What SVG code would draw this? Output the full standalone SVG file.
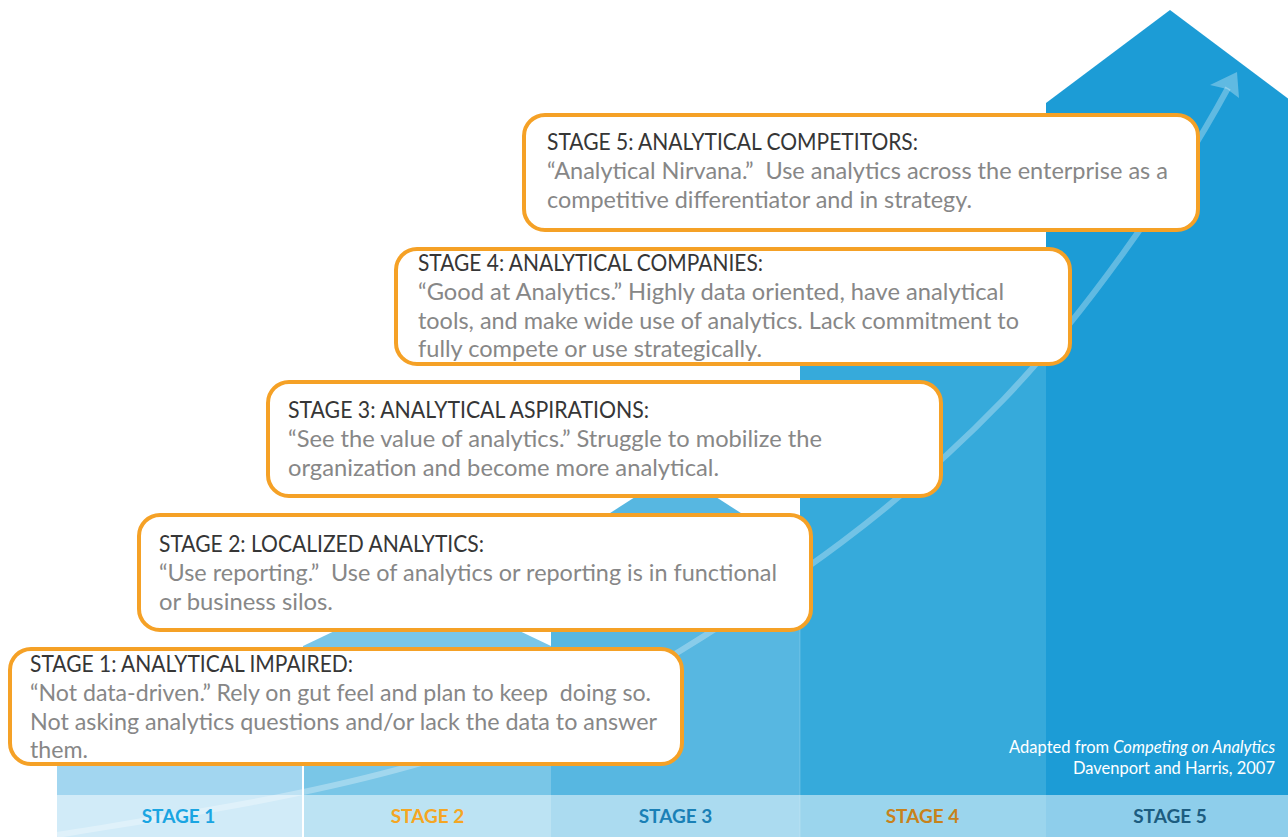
<svg xmlns="http://www.w3.org/2000/svg" width="1288" height="837" viewBox="0 0 1288 837">
  <style>
    .box { fill: #ffffff; stroke: #f5a126; stroke-width: 4; }
    .title { font-family: Lato, "Open Sans", sans-serif; font-size: 23px; fill: #363636; }
    .body { font-family: Lato, "Open Sans", sans-serif; font-size: 24px; fill: #878787; }
    .lbl { font-family: Lato, "Open Sans", sans-serif; font-size: 19px; font-weight: 700; text-anchor: middle; }
    .attr { font-family: Lato, "Open Sans", sans-serif; font-size: 16.5px; fill: #ffffff; text-anchor: end; }
  </style>
  <rect width="1288" height="837" fill="#ffffff"/>
  <g id="columns">
    <polygon points="57,837 57,730 180,690 303,730 303,837" fill="#a2d6f0"/>
    <polygon points="303,837 303,646 427,587 551,646 551,837" fill="#79c6e7"/>
    <polygon points="551,837 551,551 675.5,471 800,551 800,837" fill="#57b7e1"/>
    <polygon points="800,837 800,355 923,275 1046,355 1046,837" fill="#36aadb"/>
    <polygon points="1046,837 1046,103 1170,10 1294,103 1294,837" fill="#1c9cd6"/>
    <rect x="57" y="795" width="1231" height="42" fill="#ffffff" fill-opacity="0.5"/>
    <line x1="303" y1="700" x2="303" y2="837" stroke="#ffffff" stroke-width="2"/>
    <line x1="800" y1="540" x2="800" y2="837" stroke="#ffffff" stroke-width="1" stroke-opacity="0.2"/>
  </g>
  <g id="connectors">
    <path d="M57,835 C257,802 480,775 680,651 C788,584 895,512 1003,400 C1079,321 1170,195 1228,88" fill="none" stroke="#ffffff" stroke-opacity="0.3" stroke-width="6"/>
    <polygon points="1237,72 1210,85 1227,89 1239,98" fill="#ffffff" fill-opacity="0.3"/>
  </g>
  <g id="stage-labels">
    <text class="lbl" x="178.5" y="823" fill="#1aa5e2">STAGE 1</text>
    <text class="lbl" x="427.5" y="823" fill="#f5a623">STAGE 2</text>
    <text class="lbl" x="675.5" y="823" fill="#1a80b6">STAGE 3</text>
    <text class="lbl" x="922.5" y="823" fill="#c8821b">STAGE 4</text>
    <text class="lbl" x="1170" y="823" fill="#1c5c80">STAGE 5</text>
  </g>
  <g id="attribution">
    <text class="attr" x="1275" y="753">Adapted from <tspan font-style="italic">Competing on Analytics</tspan></text>
    <text class="attr" x="1275" y="774">Davenport and Harris, 2007</text>
  </g>
  <g id="stage5">
    <rect class="box" x="524" y="115" width="674" height="115" rx="21"/>
    <text class="title" x="547" y="150" textLength="371" lengthAdjust="spacingAndGlyphs">STAGE 5: ANALYTICAL COMPETITORS:</text>
    <text class="body" x="547" y="179" textLength="621" lengthAdjust="spacingAndGlyphs" xml:space="preserve">“Analytical Nirvana.”  Use analytics across the enterprise as a</text>
    <text class="body" x="547" y="208" textLength="425" lengthAdjust="spacingAndGlyphs">competitive differentiator and in strategy.</text>
  </g>
  <g id="stage4">
    <rect class="box" x="396" y="249" width="674" height="115" rx="21"/>
    <text class="title" x="418" y="271" textLength="345" lengthAdjust="spacingAndGlyphs">STAGE 4: ANALYTICAL COMPANIES:</text>
    <text class="body" x="418" y="300" textLength="586" lengthAdjust="spacingAndGlyphs">“Good at Analytics.” Highly data oriented, have analytical</text>
    <text class="body" x="418" y="329" textLength="601" lengthAdjust="spacingAndGlyphs">tools, and make wide use of analytics. Lack commitment to</text>
    <text class="body" x="418" y="357" textLength="344" lengthAdjust="spacingAndGlyphs">fully compete or use strategically.</text>
  </g>
  <g id="stage3">
    <rect class="box" x="268" y="382" width="673" height="114" rx="21"/>
    <text class="title" x="288" y="418" textLength="361" lengthAdjust="spacingAndGlyphs">STAGE 3: ANALYTICAL ASPIRATIONS:</text>
    <text class="body" x="288" y="447" textLength="534" lengthAdjust="spacingAndGlyphs">“See the value of analytics.” Struggle to mobilize the</text>
    <text class="body" x="288" y="476" textLength="431" lengthAdjust="spacingAndGlyphs">organization and become more analytical.</text>
  </g>
  <g id="stage2">
    <rect class="box" x="139" y="515" width="672" height="115" rx="21"/>
    <text class="title" x="159" y="552" textLength="325" lengthAdjust="spacingAndGlyphs">STAGE 2: LOCALIZED ANALYTICS:</text>
    <text class="body" x="159" y="581" textLength="618" lengthAdjust="spacingAndGlyphs" xml:space="preserve">“Use reporting.”  Use of analytics or reporting is in functional</text>
    <text class="body" x="159" y="610" textLength="174" lengthAdjust="spacingAndGlyphs">or business silos.</text>
  </g>
  <g id="stage1">
    <rect class="box" x="10" y="649" width="672" height="115" rx="21"/>
    <text class="title" x="30" y="672" textLength="323" lengthAdjust="spacingAndGlyphs">STAGE 1: ANALYTICAL IMPAIRED:</text>
    <text class="body" x="30" y="701" textLength="621" lengthAdjust="spacingAndGlyphs" xml:space="preserve">“Not data-driven.” Rely on gut feel and plan to keep  doing so.</text>
    <text class="body" x="30" y="730" textLength="627" lengthAdjust="spacingAndGlyphs">Not asking analytics questions and/or lack the data to answer</text>
    <text class="body" x="30" y="758" textLength="58" lengthAdjust="spacingAndGlyphs">them.</text>
  </g>
</svg>
